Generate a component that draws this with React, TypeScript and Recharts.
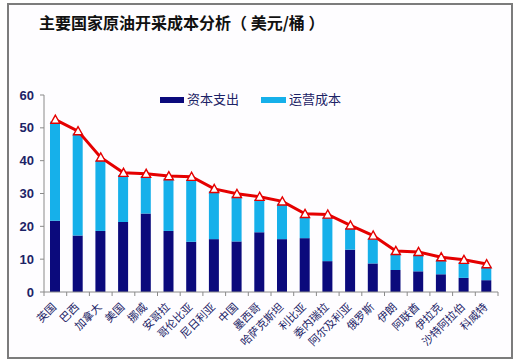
import React from "react";
import { ComposedChart, Bar, Line, XAxis, YAxis, Legend } from "recharts";

const categories = ["英国", "巴西", "加拿大", "美国", "挪威", "安哥拉", "哥伦比亚", "尼日利亚", "中国", "墨西哥", "哈萨克斯坦", "利比亚", "委内瑞拉", "阿尔及利亚", "俄罗斯", "伊朗", "阿联酋", "伊拉克", "沙特阿拉伯", "科威特"];
const capex = [21.7, 17.2, 18.6, 21.3, 23.9, 18.6, 15.3, 16.1, 15.4, 18.2, 16.1, 16.4, 9.4, 12.9, 8.7, 6.7, 6.3, 5.4, 4.3, 3.6];
const opex = [30.2, 31.1, 21.5, 14.3, 11.4, 16.0, 18.9, 14.6, 13.8, 10.0, 10.8, 6.5, 13.3, 6.6, 7.6, 5.0, 5.1, 4.5, 4.8, 4.2];
const totals = [52.5, 49.0, 41.0, 36.3, 36.0, 35.3, 35.1, 31.4, 29.9, 29.0, 27.6, 23.8, 23.6, 20.3, 17.2, 12.5, 12.2, 10.6, 9.8, 8.5];
const yTicks = [0, 10, 20, 30, 40, 50, 60];
const seriesNames = { capex: "资本支出", opex: "运营成本" };

const data = categories.map((c, i) => ({ name: c, capex: capex[i], opex: opex[i], total: totals[i] }));

const DARK = "#0b0a7c";
const LIGHT = "#16b0ea";
const RED = "#e50000";
const TXT = "#1c2366";

const PLOT_LEFT = 44;
const PLOT_RIGHT = 498;
const BAND = (PLOT_RIGHT - PLOT_LEFT) / categories.length;

const XTick = (props: any) => {
  const { x, y, payload, index } = props;
  const lx = x - BAND / 2;
  return (
    <g>
      <line x1={lx} y1={y} x2={lx} y2={y + 4} stroke="#8a8a8a" strokeWidth={1} />
      {index === categories.length - 1 && (
        <line x1={x + BAND / 2} y1={y} x2={x + BAND / 2} y2={y + 4} stroke="#8a8a8a" strokeWidth={1} />
      )}
      <text
        transform={`translate(${x - 1},${y + 13}) rotate(-45)`}
        textAnchor="end"
        dy="0.35em"
        fontSize={11}
        fontFamily="'Noto Sans CJK SC'"
        fill={TXT}
      >
        {payload.value}
      </text>
    </g>
  );
};

const Triangle = (props: any) => {
  const { cx, cy } = props;
  if (cx == null || cy == null) return null;
  const s = 4.5;
  return (
    <polygon
      points={`${cx},${cy - s} ${cx - s},${cy + s * 0.8} ${cx + s},${cy + s * 0.8}`}
      fill="#ffffff"
      stroke={RED}
      strokeWidth={1.4}
    />
  );
};

const LegendContent = () => (
  <div style={{ position: "relative", width: 200, height: 16, fontFamily: "'Noto Sans CJK SC'", fontSize: 13, color: TXT }}>
    <div style={{ position: "absolute", left: 0, top: 5, width: 24, height: 6, background: DARK }} />
    <div style={{ position: "absolute", left: 27, top: -1, lineHeight: "16px", whiteSpace: "nowrap" }}>{seriesNames.capex}</div>
    <div style={{ position: "absolute", left: 101, top: 5, width: 25, height: 6, background: LIGHT }} />
    <div style={{ position: "absolute", left: 129, top: -1, lineHeight: "16px", whiteSpace: "nowrap" }}>{seriesNames.opex}</div>
  </div>
);

export default function App() {
  return (
    <div style={{ position: "absolute", left: 0, top: 0, width: 522, height: 363, background: "#ffffff", overflow: "hidden" }}>
      <div
        style={{
          position: "absolute",
          left: 7,
          top: 3,
          width: 506,
          height: 356,
          boxSizing: "border-box",
          border: "2px solid #7c7c7c",
          background: "#fefdff",
        }}
      />
      <div
        style={{
          position: "absolute",
          left: 39,
          top: 12,
          fontSize: 16,
          fontWeight: "bold",
          fontFamily: "'Noto Sans CJK SC'",
          color: "#111",
          whiteSpace: "pre",
          lineHeight: "20px",
        }}
      >
        主要国家原油开采成本分析（ 美元/桶 ）
      </div>
      <div style={{ position: "absolute", left: 0, top: 0 }}>
        <ComposedChart width={522} height={363} data={data} margin={{ top: 95, right: 24, bottom: 0, left: 0 }}>
          <XAxis
            dataKey="name"
            interval={0}
            height={71}
            tickLine={false}
            tickSize={0}
            tickMargin={0}
            axisLine={{ stroke: "#8a8a8a" }}
            tick={<XTick />}
          />
          <YAxis
            width={44}
            domain={[0, 60]}
            ticks={yTicks}
            interval={0}
            tickSize={4}
            tickMargin={6}
            axisLine={{ stroke: "#8a8a8a" }}
            tickLine={{ stroke: "#8a8a8a" }}
            tick={{ fill: TXT, fontSize: 13, fontWeight: "bold", fontFamily: "'Liberation Sans', Arial" }}
          />
          <Legend
            verticalAlign="middle"
            layout="horizontal"
            content={<LegendContent />}
            wrapperStyle={{ position: "absolute", top: 92, left: 160, width: 220 }}
          />
          <Bar dataKey="capex" name={seriesNames.capex} stackId="a" fill={DARK} barSize={10} isAnimationActive={false} />
          <Bar dataKey="opex" name={seriesNames.opex} stackId="a" fill={LIGHT} barSize={10} isAnimationActive={false} />
          <Line
            dataKey="total"
            type="linear"
            stroke={RED}
            strokeWidth={3}
            dot={<Triangle />}
            activeDot={false}
            legendType="none"
            isAnimationActive={false}
          />
        </ComposedChart>
      </div>
    </div>
  );
}
